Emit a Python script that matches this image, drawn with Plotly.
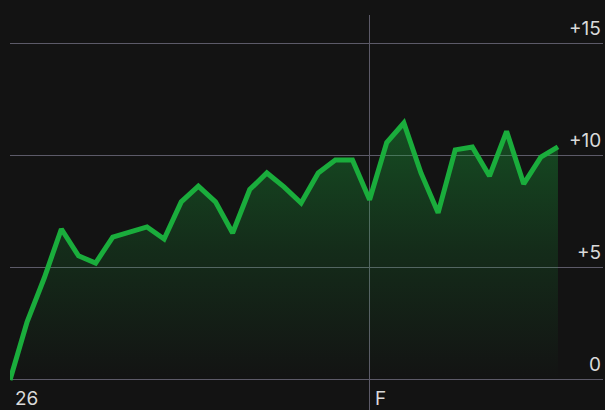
import plotly.graph_objects as go

x_index = list(range(33))
values = [0.0, 2.6, 4.55, 6.74, 5.54, 5.22, 6.38, 6.6, 6.83, 6.29, 7.95, 8.65,
          7.95, 6.56, 8.5, 9.24, 8.62, 7.9, 9.24, 9.82, 9.82, 8.04,
          10.6, 11.47, 9.24, 7.46, 10.27, 10.4, 9.1, 11.1, 8.75, 9.95, 10.4]
x_tick_vals = [0, 21]
x_tick_text = ["26", "F"]
y_tick_vals = [0, 5, 10, 15]
y_tick_text = ["0", "+5", "+10", "+15"]

BG = "#131313"
GRID = "#5c5a68"
LINE = "#1aad3c"
TXT = "#dadada"
FONT = "Inter, Roboto, sans-serif"

fig = go.Figure()
fig.add_trace(go.Scatter(
    x=x_index, y=values, mode="lines",
    line=dict(color=LINE, width=5, shape="linear"),
    fill="tozeroy",
    fillgradient=dict(type="vertical",
                      colorscale=[[0, "rgba(26,173,60,0.0)"],
                                  [0.5, "rgba(26,173,60,0.16)"],
                                  [1, "rgba(26,173,60,0.38)"]],
                      start=0, stop=11.5),
    hoverinfo="skip",
))

for v, t in zip(y_tick_vals, y_tick_text):
    fig.add_annotation(x=1, xref="paper", y=v, yref="y", text=t,
                       showarrow=False, xanchor="right", yanchor="bottom",
                       xshift=0, yshift=2, font=dict(family=FONT, size=19, color=TXT))
for v, t in zip(x_tick_vals, x_tick_text):
    fig.add_annotation(x=v, xref="x", y=0, yref="y", text=t,
                       showarrow=False, xanchor="left", yanchor="top",
                       xshift=3, yshift=-5, font=dict(family=FONT, size=19, color=TXT))

fig.update_layout(
    width=605, height=410,
    paper_bgcolor=BG, plot_bgcolor=BG,
    margin=dict(l=10, r=2, t=15, b=0, autoexpand=False),
    showlegend=False,
    hovermode=False,
    font=dict(family=FONT, color=TXT, size=19),
    xaxis=dict(range=[0, 34.63], tickvals=x_tick_vals, showticklabels=False,
               showgrid=True, gridcolor=GRID, gridwidth=1, zeroline=False,
               showline=False, ticks="", automargin=False),
    yaxis=dict(range=[-1.34, 16.29], tickvals=y_tick_vals, showticklabels=False,
               side="right", showgrid=True, gridcolor=GRID, gridwidth=1,
               zeroline=False, showline=False, ticks="", automargin=False),
)

fig.write_html("out.html", config={"displayModeBar": False},
               post_script="document.body.style.margin='0';document.body.style.background='#131313';")
